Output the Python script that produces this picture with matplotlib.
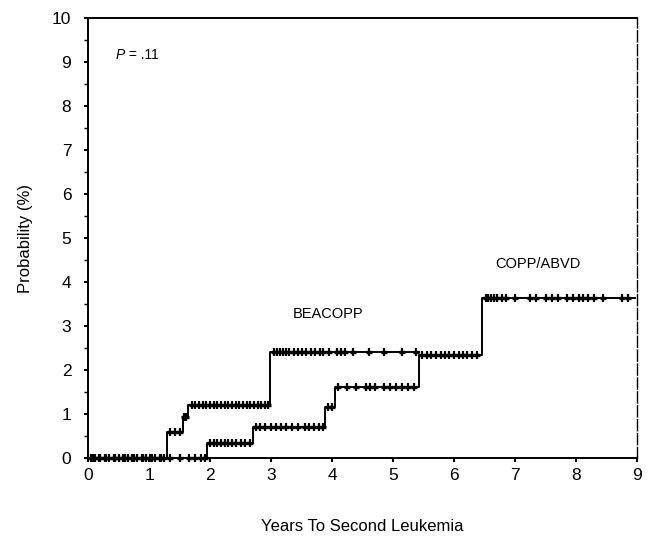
import numpy as np
import matplotlib
matplotlib.use("Agg")
import matplotlib.pyplot as plt

plt.rcParams['font.family'] = ['Liberation Sans', 'DejaVu Sans']

# Step curves (cumulative probability, %)
beacopp_t = [0, 1.29, 1.55, 1.64, 2.98, 5.42]
beacopp_p = [0, 0.60, 0.94, 1.20, 2.42, 2.42]
copp_t = [0, 1.95, 2.70, 3.89, 4.05, 5.42, 6.46, 8.97]
copp_p = [0, 0.34, 0.71, 1.17, 1.62, 2.34, 3.63, 3.63]

# Censoring times
beacopp_cens = [0.05, 0.12, 0.2, 0.28, 0.35, 0.42, 0.5, 0.58, 0.65, 0.72, 0.8, 0.88,
                0.95, 1.02, 1.1, 1.18, 1.25, 1.35, 1.42, 1.5, 1.58, 1.61,
                1.7, 1.76, 1.82, 1.88, 1.94, 2.0, 2.06, 2.12, 2.18, 2.24, 2.3, 2.36,
                2.42, 2.48, 2.54, 2.6, 2.66, 2.72, 2.78, 2.84, 2.9, 2.95,
                3.05, 3.1, 3.15, 3.2, 3.25, 3.3, 3.38, 3.45, 3.5, 3.58, 3.65, 3.72,
                3.8, 3.85, 3.95, 4.08, 4.15, 4.22, 4.35, 4.6, 4.85, 5.15, 5.38]
copp_cens = [0.08, 0.18, 0.3, 0.45, 0.6, 0.75, 0.9, 1.05, 1.2, 1.35, 1.5, 1.65,
             1.75, 1.85, 1.92, 2.0, 2.06, 2.12, 2.18, 2.24, 2.3, 2.36, 2.42, 2.5,
             2.57, 2.65, 2.75, 2.82, 2.9, 3.0, 3.08, 3.17, 3.25, 3.35, 3.45, 3.55,
             3.62, 3.7, 3.78, 3.85, 3.93, 4.0, 4.1, 4.25, 4.4, 4.55, 4.62, 4.7,
             4.85, 4.95, 5.05, 5.15, 5.25, 5.35, 5.48, 5.55, 5.62, 5.7, 5.78,
             5.85, 5.92, 6.0, 6.08, 6.15, 6.22, 6.3, 6.38, 6.52, 6.56, 6.6, 6.65,
             6.7, 6.78, 6.85, 7.0, 7.25, 7.35, 7.5, 7.6, 7.7, 7.85, 7.95, 8.05,
             8.12, 8.2, 8.3, 8.45, 8.75, 8.85]

x_ticks = [0, 1, 2, 3, 4, 5, 6, 7, 8, 9]
y_ticks = [0, 1, 2, 3, 4, 5, 6, 7, 8, 9, 10]


def step_value(t_list, p_list, t):
    idx = np.searchsorted(np.asarray(t_list), t, side='right') - 1
    return np.asarray(p_list)[idx]


fig = plt.figure(figsize=(6.5, 5.45), dpi=100)
ax = fig.add_axes([0.1354, 0.1596, 0.98 - 0.1354, 0.967 - 0.1596])

for t, p, cens in [(beacopp_t, beacopp_p, beacopp_cens), (copp_t, copp_p, copp_cens)]:
    ax.step(t, p, where='post', color='black', lw=1.4, clip_on=False)
    yc = step_value(t, p, np.asarray(cens))
    ax.plot(cens, yc, linestyle='none', marker='|', markersize=6, mew=1.6,
            color='black', clip_on=False)
    ax.plot(cens, yc, linestyle='none', marker='_', markersize=4, mew=2.4,
            color='black', clip_on=False)

ax.set_xlim(0, 9)
ax.set_ylim(0, 10)
ax.set_xticks(x_ticks)
ax.set_yticks(y_ticks)
ax.set_yticks(np.arange(0.5, 10, 1.0), minor=True)
ax.tick_params(axis='both', which='major', labelsize=12.5, direction='out',
               length=3, width=1.5, colors='black')
ax.tick_params(axis='y', which='minor', direction='out', length=3, width=1)
ax.tick_params(axis='x', which='major', pad=4)
ax.tick_params(axis='y', which='major', pad=9)

for side in ['left', 'bottom', 'top']:
    ax.spines[side].set_linewidth(1.4)
ax.spines['right'].set_linewidth(1.0)
ax.spines['right'].set_linestyle((0, (8, 2)))

ax.set_xlabel('Years To Second Leukemia', fontsize=12, labelpad=26)
ax.set_ylabel('Probability (%)', fontsize=12, labelpad=14)

ax.text(0.45, 9.15, 'P', style='italic', fontsize=10, va='center')
ax.text(0.6, 9.15, ' = .11', fontsize=10, va='center')
ax.text(3.35, 3.28, 'BEACOPP', fontsize=10.5, va='center')
ax.text(6.68, 4.4, 'COPP/ABVD', fontsize=10.5, va='center')

fig.savefig('out.png', dpi=100)
